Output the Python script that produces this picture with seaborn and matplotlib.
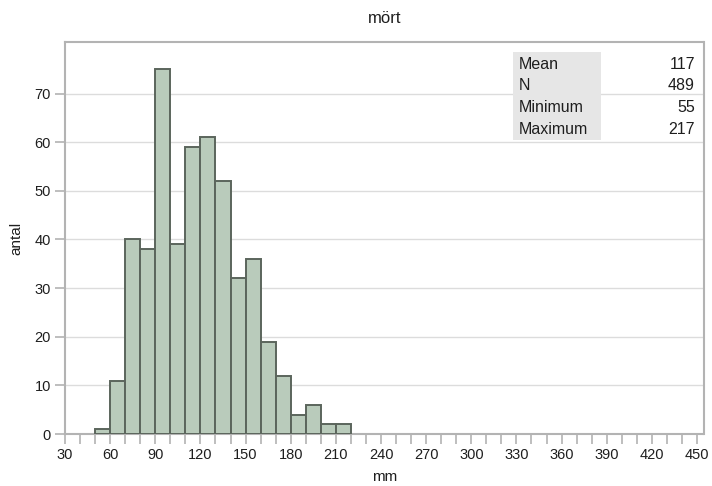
import matplotlib
matplotlib.use("Agg")
import matplotlib.pyplot as plt
from matplotlib.ticker import MultipleLocator
import numpy as np
import pandas as pd
import seaborn as sns

# Length classes (mm, lower edge of each 10 mm bin) and fish counts
bin_starts = [50, 60, 70, 80, 90, 100, 110, 120, 130, 140, 150, 160, 170, 180, 190, 200, 210]
counts = [1, 11, 40, 38, 75, 39, 59, 61, 52, 32, 36, 19, 12, 4, 6, 2, 2]
bin_width = 10

stat_labels = ["Mean", "N", "Minimum", "Maximum"]
stat_values = ["117", "489", "55", "217"]

title = "mört"
x_label = "mm"
y_label = "antal"

sns.set_theme(style="white")
plt.rcParams["font.family"] = ["Liberation Sans", "DejaVu Sans"]

df = pd.DataFrame({"mm": np.array(bin_starts) + bin_width / 2, "antal": counts})
edges = list(bin_starts) + [bin_starts[-1] + bin_width]

fig = plt.figure(figsize=(7.12, 4.86), dpi=100)
ax = fig.add_axes([65 / 712, 1 - 434 / 486, (703.5 - 65) / 712, (434 - 42) / 486])

sns.histplot(data=df, x="mm", weights="antal", bins=edges, ax=ax,
             color="#b9cbbb", edgecolor="#5b655c", linewidth=1.4, alpha=1.0,
             zorder=3)

ax.set_xlim(30, 454.3)
ax.set_ylim(0, 80.6)
ax.xaxis.set_major_locator(MultipleLocator(30))
ax.xaxis.set_minor_locator(MultipleLocator(10))
ax.set_yticks(range(0, 71, 10))

ax.grid(axis="y", color="#dcdcdc", linewidth=1.0, zorder=0)
ax.grid(axis="x", visible=False)
ax.set_axisbelow(True)

for s in ax.spines.values():
    s.set_color("#b3b3b3")
    s.set_linewidth(1.5)

ax.tick_params(axis="both", which="both", direction="out", length=7,
               width=1.2, color="#b3b3b3", labelsize=10.5, labelcolor="#1e1e1e",
               bottom=True, left=True, pad=3)
ax.tick_params(axis="x", which="minor", length=7)

ax.set_xlabel(x_label, fontsize=11, color="#1e1e1e", labelpad=6)
ax.set_ylabel(y_label, fontsize=11, color="#1e1e1e", labelpad=8)
ax.set_title(title, fontsize=12, color="#1e1e1e", pad=14)

# Summary statistics panel in the upper right corner
fig.patches.append(plt.Rectangle((513 / 712, 1 - 140 / 486), (601 - 513) / 712, (140 - 52) / 486,
                                 transform=fig.transFigure, facecolor="#e6e6e6",
                                 edgecolor="none", zorder=5))
for i, (lab, val) in enumerate(zip(stat_labels, stat_values)):
    y = 1 - (64 + 22 * i) / 486
    fig.text(519 / 712, y, lab, fontsize=11.5, color="#1e1e1e", va="center", ha="left", zorder=6)
    fig.text(695 / 712, y, val, fontsize=11.5, color="#1e1e1e", va="center", ha="right", zorder=6)

fig.savefig("out.png", dpi=100, facecolor="white")
